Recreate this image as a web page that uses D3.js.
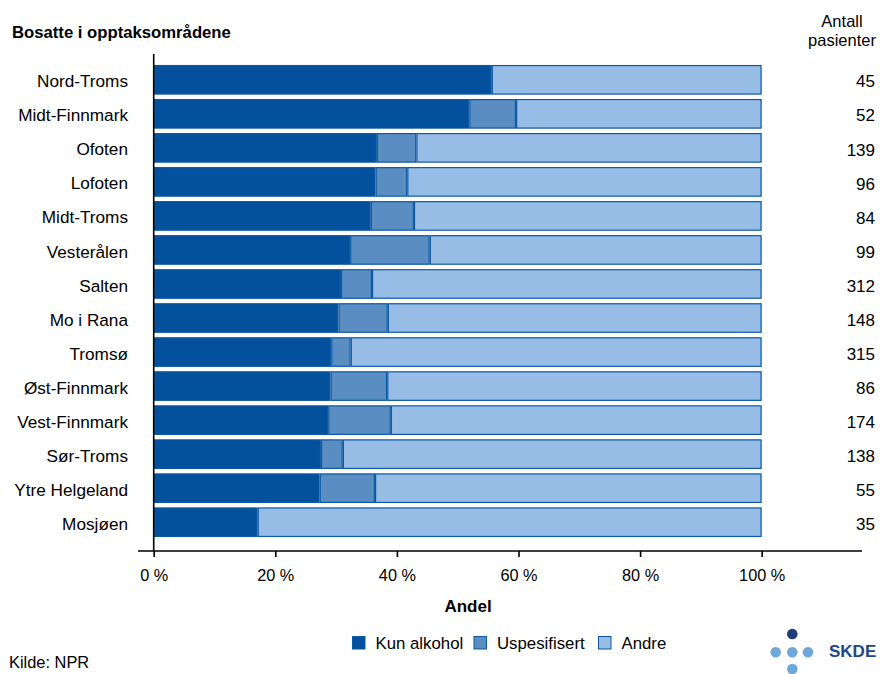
<!DOCTYPE html>
<html>
<head>
<meta charset="utf-8">
<script src="https://cdn.jsdelivr.net/npm/d3@7"></script>
<style>
  html, body { margin: 0; padding: 0; background: #fff; }
  svg text { font-family: "Liberation Sans", Arial, sans-serif; fill: #000; }
</style>
</head>
<body>
<svg id="chart" width="880" height="674"></svg>
<script>
// Areas of residence, sorted by share of "Kun alkohol"
const areas = ["Nord-Troms", "Midt-Finnmark", "Ofoten", "Lofoten", "Midt-Troms", "Vesterålen",
  "Salten", "Mo i Rana", "Tromsø", "Øst-Finnmark", "Vest-Finnmark", "Sør-Troms",
  "Ytre Helgeland", "Mosjøen"];
// Shares in percent per category
const kunAlkohol   = [55.6, 51.9, 36.7, 36.5, 35.7, 32.3, 30.8, 30.4, 29.2, 29.1, 28.7, 27.5, 27.3, 17.1];
const uspesifisert = [0.0, 7.7, 6.5, 5.2, 7.1, 13.1, 5.1, 8.1, 3.2, 9.3, 10.3, 3.6, 9.1, 0.0];
const andre        = [44.4, 40.4, 56.8, 58.3, 57.2, 54.6, 64.1, 61.5, 67.6, 61.6, 61.0, 68.9, 63.6, 82.9];
// Number of patients per area
const patients     = [45, 52, 139, 96, 84, 99, 312, 148, 315, 86, 174, 138, 55, 35];
const seriesNames  = ["Kun alkohol", "Uspesifisert", "Andre"];
const xTicks       = [0, 20, 40, 60, 80, 100];

const colors = ["#03519c", "#5a8dc2", "#97bde6"];
const strokeColor = "#0b58a4";

const rows = areas.map((a, i) => ({
  area: a, "Kun alkohol": kunAlkohol[i], "Uspesifisert": uspesifisert[i], "Andre": andre[i], n: patients[i]
}));

const svg = d3.select("#chart");
const x = d3.scaleLinear().domain([0, 100]).range([153.7, 761.7]);
const y = d3.scaleBand().domain(areas).range([62.8, 539.2]).paddingInner(0.127).paddingOuter(0.063);

const stack = d3.stack().keys(seriesNames)(rows);

// Stacked bars
svg.append("g").selectAll("g").data(stack).join("g")
  .attr("fill", (d, i) => colors[i])
  .selectAll("rect").data(d => d.filter(p => p[1] - p[0] > 0)).join("rect")
  .attr("x", d => x(d[0]) + 0.6)
  .attr("width", d => x(d[1]) - x(d[0]) - 1.2)
  .attr("y", d => y(d.data.area) + 0.6)
  .attr("height", y.bandwidth() - 1.2)
  .attr("stroke", strokeColor)
  .attr("stroke-width", 1.2);

// Y axis line
svg.append("line")
  .attr("x1", x(0)).attr("x2", x(0))
  .attr("y1", 54).attr("y2", 551)
  .attr("stroke", "#000").attr("stroke-width", 1.6);

// X axis
const xAxis = svg.append("g").attr("transform", "translate(0,551)")
  .call(d3.axisBottom(x).tickValues(xTicks).tickSize(6).tickFormat(d => d + " %"));
xAxis.select(".domain").remove();
xAxis.selectAll(".tick line").attr("stroke", "#000").attr("stroke-width", 1.6);
xAxis.selectAll(".tick text")
  .attr("y", 30).attr("dy", null)
  .attr("font-size", 16.3).attr("font-family", "Liberation Sans, Arial, sans-serif").attr("fill", "#000");
svg.append("line")
  .attr("x1", 138).attr("x2", 862)
  .attr("y1", 551).attr("y2", 551)
  .attr("stroke", "#000").attr("stroke-width", 1.6);

// Category labels
svg.append("g").selectAll("text").data(areas).join("text")
  .attr("x", 128)
  .attr("y", d => y(d) + y.bandwidth() / 2)
  .attr("dy", "0.44em")
  .attr("text-anchor", "end")
  .attr("font-size", 17.2)
  .text(d => d);

// Patient counts
svg.append("g").selectAll("text").data(rows).join("text")
  .attr("x", 875)
  .attr("y", d => y(d.area) + y.bandwidth() / 2)
  .attr("dy", "0.45em")
  .attr("text-anchor", "end")
  .attr("font-size", 17)
  .text(d => d.n);

// Titles
svg.append("text").attr("x", 12).attr("y", 38).attr("font-size", 16.7).attr("font-weight", "bold")
  .text("Bosatte i opptaksområdene");
svg.append("text").attr("x", 842).attr("y", 27).attr("font-size", 16.5).attr("text-anchor", "middle").text("Antall");
svg.append("text").attr("x", 842).attr("y", 46).attr("font-size", 16.5).attr("text-anchor", "middle").text("pasienter");
svg.append("text").attr("x", 468).attr("y", 612).attr("font-size", 17)
  .attr("font-weight", "bold").attr("text-anchor", "middle").text("Andel");

// Legend
const legendX = [352.5, 474, 598.5];
const legend = svg.append("g").selectAll("g").data(seriesNames).join("g")
  .attr("transform", (d, i) => `translate(${legendX[i]},636.5)`);
legend.append("rect").attr("width", 12.5).attr("height", 12.5)
  .attr("fill", (d, i) => colors[i]).attr("stroke", strokeColor).attr("stroke-width", 1);
legend.append("text").attr("x", 23).attr("y", 12.5).attr("font-size", 16.8).text(d => d);

// Source
svg.append("text").attr("x", 9).attr("y", 668).attr("font-size", 16.4).text("Kilde: NPR");

// SKDE logo
const logo = svg.append("g");
logo.append("circle").attr("cx", 792.3).attr("cy", 634).attr("r", 5.3).attr("fill", "#1d3c78");
[775.7, 792.3, 808].forEach(cx => logo.append("circle").attr("cx", cx).attr("cy", 652.3).attr("r", 5.3).attr("fill", "#6ea7dc"));
logo.append("circle").attr("cx", 792.3).attr("cy", 669).attr("r", 5.3).attr("fill", "#6ea7dc");
logo.append("text").attr("x", 829).attr("y", 656.5).attr("font-size", 17).attr("font-weight", "bold")
  .style("fill", "#1e4585").text("SKDE");
</script>
</body>
</html>
